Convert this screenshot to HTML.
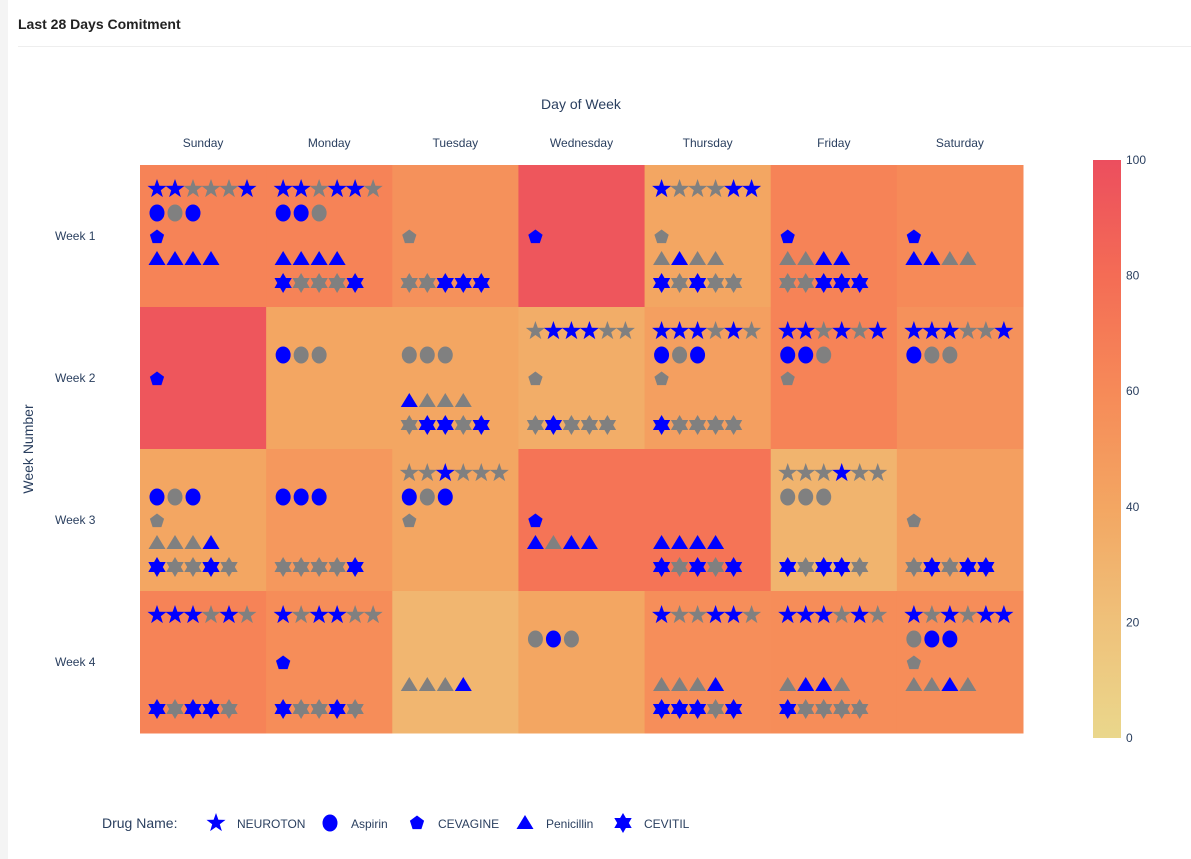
<!DOCTYPE html>
<html><head><meta charset="utf-8">
<style>
body{margin:0;width:1191px;height:859px;background:#fff;font-family:"Liberation Sans",Arial,sans-serif;overflow:hidden;position:relative}
#strip{position:absolute;left:0;top:0;width:8px;height:859px;background:#f4f4f4}
#title{position:absolute;left:18px;top:16px;font-size:14px;font-weight:bold;color:#222}
#rule{position:absolute;left:18px;top:46px;width:1173px;height:1px;background:#eee}
svg{position:absolute;left:0;top:0}
text{font-family:"Liberation Sans",Arial,sans-serif;fill:#2a3f5f}
</style></head><body>
<div id="strip"></div>
<div id="title">Last 28 Days Comitment</div>
<div id="rule"></div>
<svg id="chart" width="1191" height="859"></svg>
<script>
const days=["Sunday","Monday","Tuesday","Wednesday","Thursday","Friday","Saturday"];
const weeks=["Week 1","Week 2","Week 3","Week 4"];
const values=[
 [65,65,55,95,40,65,60],
 [95,40,40,35,45,65,55],
 [40,50,40,75,75,30,45],
 [65,58,28,40,57,58,58]];
const drugs=["NEUROTON","Aspirin","CEVAGINE","Penicillin","CEVITIL"];
const colorTicks=[0,20,40,60,80,100];
// per cell: [stars, circles, pentagon, triangles, hexagrams]; B=taken(blue), G=missed(gray)
const doses=[
 [["BBGGGB","BGB","B","BBBB",""],["BBGBBG","BBG","","BBBB","BGGGB"],["","","G","","GGBBB"],["","","B","",""],["BGGGBB","","G","GBGG","BGBGG"],["","","B","GGBB","GGBBB"],["","","B","BBGG",""]],
 [["","","B","",""],["","BGG","","",""],["","GGG","","BGGG","GBBGB"],["GBBBGG","","G","","GBGGG"],["BBBGBG","BGB","G","","BGGGG"],["BBGBGB","BBG","G","",""],["BBBGGB","BGG","","",""]],
 [["","BGB","G","GGGB","BGGBG"],["","BBB","","","GGGGB"],["GGBGGG","BGB","G","",""],["","","B","BGBB",""],["","","","BBBB","BGBGB"],["GGGBGG","GGG","","","BGBBG"],["","","G","","GBGBB"]],
 [["BBBGBG","","","","BGBBG"],["BGBBGG","","B","","BGGBG"],["","","","GGGB",""],["","GBG","","",""],["BGGBBG","","","GGGB","BBBGB"],["BBBGBG","","","GBBG","BGGGG"],["BGBGBB","GBB","G","GGBG",""]]];

const NS="http://www.w3.org/2000/svg";
const svg=document.getElementById('chart');
function mk(t,a,p){const e=document.createElementNS(NS,t);for(const k in a)e.setAttribute(k,a[k]);(p||svg).appendChild(e);return e;}
const X0=140,Y0=165,W=883,H=568;
const cw=W/days.length,ch=H/weeks.length;
const xPos=i=>X0+i*cw, yPos=j=>Y0+j*ch;
const stops=[[0,[234,215,140]],[20,[239,193,122]],[40,[243,166,98]],[60,[246,138,88]],[80,[244,108,85]],[100,[236,78,94]]];
function col(v){for(let i=1;i<stops.length;i++){if(v<=stops[i][0]){const a=stops[i-1],b=stops[i],t=(v-a[0])/(b[0]-a[0]);return 'rgb('+a[1].map((c,k)=>Math.round(c+(b[1][k]-c)*t)).join(',')+')';}}return 'rgb(236,78,94)';}
function starPath(cx,cy,R,r,n){let d='';for(let i=0;i<2*n;i++){const a=-Math.PI/2+i*Math.PI/n,rr=i%2?r:R;d+=(i?'L':'M')+(cx+rr*Math.cos(a)).toFixed(1)+','+(cy+rr*Math.sin(a)).toFixed(1);}return d+'Z';}
function shape(type,cx,cy,fill,g){
 let e;
 if(type===0)e=mk('path',{d:starPath(cx,cy,10,4,5),fill},g);
 else if(type===1)e=mk('ellipse',{cx,cy,rx:7.5,ry:8.5,fill},g);
 else if(type===2)e=mk('path',{d:starPath(cx,cy+1,8,8,5).replace(/L[^L]*?(?=L)/g,m=>m),fill},g);
 else if(type===3)e=mk('path',{d:`M${cx},${cy-8}L${cx+8.5},${cy+6}L${cx-8.5},${cy+6}Z`,fill},g);
 else e=mk('path',{d:starPath(cx,cy,10,5.8,6),fill},g);
 return e;
}
// pentagon proper
function pent(cx,cy,fill,g){let d='';for(let i=0;i<5;i++){const a=-Math.PI/2+i*2*Math.PI/5;d+=(i?'L':'M')+(cx+7.5*Math.cos(a)).toFixed(1)+','+(cy+1+7.5*Math.sin(a)).toFixed(1);}return mk('path',{d:d+'Z',fill},g);}
const rowOff=[24,48,71,94,118];
const cells=mk('g',{});


weeks.forEach((w,j)=>days.forEach((d,i)=>{
 const r=mk('rect',{x:xPos(i),y:yPos(j),width:cw+0.5,height:ch+0.5,fill:col(values[j][i])},cells);
 
 
}));
const marks=mk('g',{});


weeks.forEach((w,j)=>days.forEach((d,i)=>{
 doses[j][i].forEach((s,t)=>{[...s].forEach((c,k)=>{
  const cx=xPos(i)+17+k*18,cy=yPos(j)+rowOff[t],f=c==='B'?'#0000ff':'#808080';
  const e=t===2?pent(cx,cy,f,marks):shape(t,cx,cy,f,marks);
  
  
 });});
}));
days.forEach((d,i)=>{const t=mk('text',{x:xPos(i)+cw/2,y:147,'text-anchor':'middle','font-size':12});t.textContent=d;
 });
weeks.forEach((w,j)=>{const t=mk('text',{x:55,y:yPos(j)+ch/2+4,'font-size':12});t.textContent=w;
 });
let t=mk('text',{x:581,y:109,'text-anchor':'middle','font-size':14});t.textContent='Day of Week';

t=mk('text',{x:33,y:449,'text-anchor':'middle','font-size':14,transform:'rotate(-90 33 449)'});t.textContent='Week Number';

// colorbar
const defs=mk('defs',{});
const lg=mk('linearGradient',{id:'cg',x1:0,y1:1,x2:0,y2:0},defs);
stops.forEach(s=>mk('stop',{offset:s[0]+'%','stop-color':col(s[0])},lg));
const cb=mk('rect',{x:1093,y:160,width:28,height:578,fill:'url(#cg)'});

colorTicks.forEach(v=>{const tt=mk('text',{x:1126,y:738-v/100*578+4,'font-size':12});tt.textContent=v;
 });
// legend
t=mk('text',{x:102,y:828,'font-size':14});t.textContent='Drug Name:';

const lx=[216,330,417,525,623];
drugs.forEach((d,k)=>{const g=mk('g',{});
 
 if(k===2)pent(lx[k],822,'#0000ff',g);else shape(k,lx[k],823,'#0000ff',g);
 const tx=mk('text',{x:lx[k]+21,y:828,'font-size':12},g);tx.textContent=d;});
</script>
</body></html>
